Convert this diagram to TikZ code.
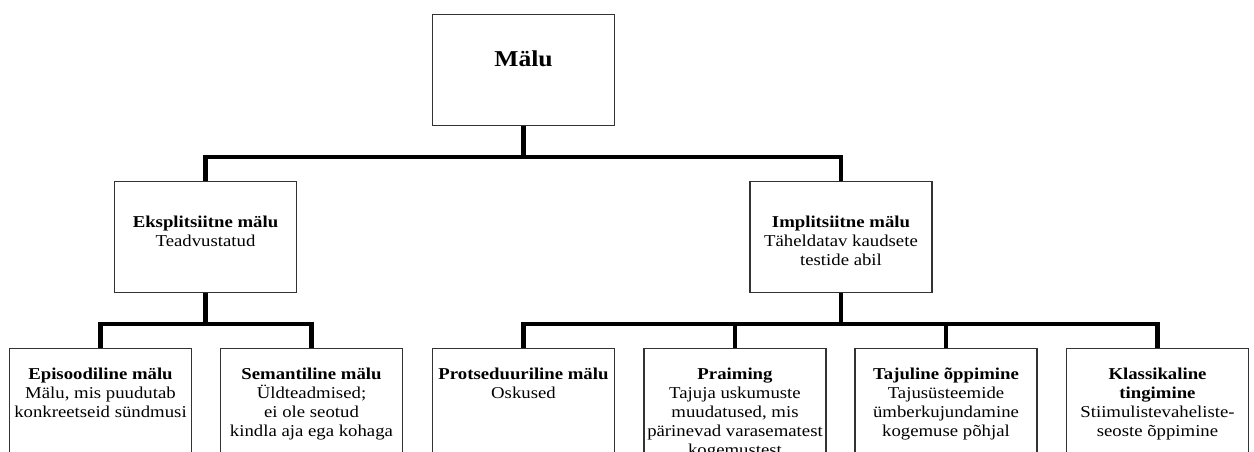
\documentclass[tikz,border=0pt]{standalone}
\usepackage{fontspec}
\setmainfont{Liberation Serif}[FakeStretch=1.13]
\begin{document}
\begin{tikzpicture}[x=1pt,y=-1pt,
  box/.style={draw=black!80, line width=1.1pt, minimum width=182pt, minimum height=111pt, inner sep=0pt, anchor=north, fill=white},
  txt/.style={anchor=north, inner sep=0pt, align=center, font=\fontsize{16.6}{19}\selectfont},
  toptxt/.style={anchor=north, inner sep=0pt, align=center, font=\fontsize{22.7}{26}\selectfont\bfseries},
  conn/.style={line width=4.5pt, black}]
\useasboundingbox (0,0) rectangle (1254,452);
\clip (0,0) rectangle (1254,452);
% boxes
\node[box] (malu) at (523.5,14) {};
\node[box] (eks) at (205.5,181) {};
\node[box] (imp) at (841,181) {};
\node[box] (epi) at (100.5,348) {};
\node[box] (sem) at (311.5,348) {};
\node[box] (pro) at (523.5,348) {};
\node[box] (pra) at (735,348) {};
\node[box] (taj) at (946,348) {};
\node[box] (kla) at (1157.5,348) {};
% connectors
\draw[conn] (malu.south) -- ++(0,31) -| (eks.north);
\draw[conn] (malu.south) -- ++(0,31) -| (imp.north);
\draw[conn] (eks.south) -- ++(0,31) -| (epi.north);
\draw[conn] (eks.south) -- ++(0,31) -| (sem.north);
\draw[conn] (imp.south) -- ++(0,31) -| (pro.north);
\draw[conn] (imp.south) -- ++(0,31) -| (pra.north);
\draw[conn] (imp.south) -- ++(0,31) -| (taj.north);
\draw[conn] (imp.south) -- ++(0,31) -| (kla.north);
% texts
\node[toptxt] (tmalu) at ([yshift=-32.7pt]malu.north) {\rule{0pt}{20pt}Mälu};
\node[txt] (teks) at ([yshift=-31pt]eks.north) {\rule{0pt}{15pt}\textbf{Eksplitsiitne mälu}\\Teadvustatud};
\node[txt] (timp) at ([yshift=-31pt]imp.north) {\rule{0pt}{15pt}\textbf{Implitsiitne mälu}\\Täheldatav kaudsete\\testide abil};
\node[txt] (tepi) at ([yshift=-16pt]epi.north) {\rule{0pt}{15pt}\textbf{Episoodiline mälu}\\Mälu, mis puudutab\\konkreetseid sündmusi};
\node[txt] (tsem) at ([yshift=-16pt]sem.north) {\rule{0pt}{15pt}\textbf{Semantiline mälu}\\Üldteadmised;\\ei ole seotud\\kindla aja ega kohaga};
\node[txt] (tpro) at ([yshift=-16pt]pro.north) {\rule{0pt}{15pt}\textbf{Protseduuriline mälu}\\Oskused};
\node[txt] (tpra) at ([yshift=-16pt]pra.north) {\rule{0pt}{15pt}\textbf{Praiming}\\Tajuja uskumuste\\muudatused, mis\\pärinevad varasematest\\kogemustest};
\node[txt] (ttaj) at ([yshift=-16pt]taj.north) {\rule{0pt}{15pt}\textbf{Tajuline õppimine}\\Tajusüsteemide\\ümberkujundamine\\kogemuse põhjal};
\node[txt] (tkla) at ([yshift=-16pt]kla.north) {\rule{0pt}{15pt}\textbf{Klassikaline}\\\textbf{tingimine}\\Stiimulistevaheliste-\\seoste õppimine};
\end{tikzpicture}
\end{document}
